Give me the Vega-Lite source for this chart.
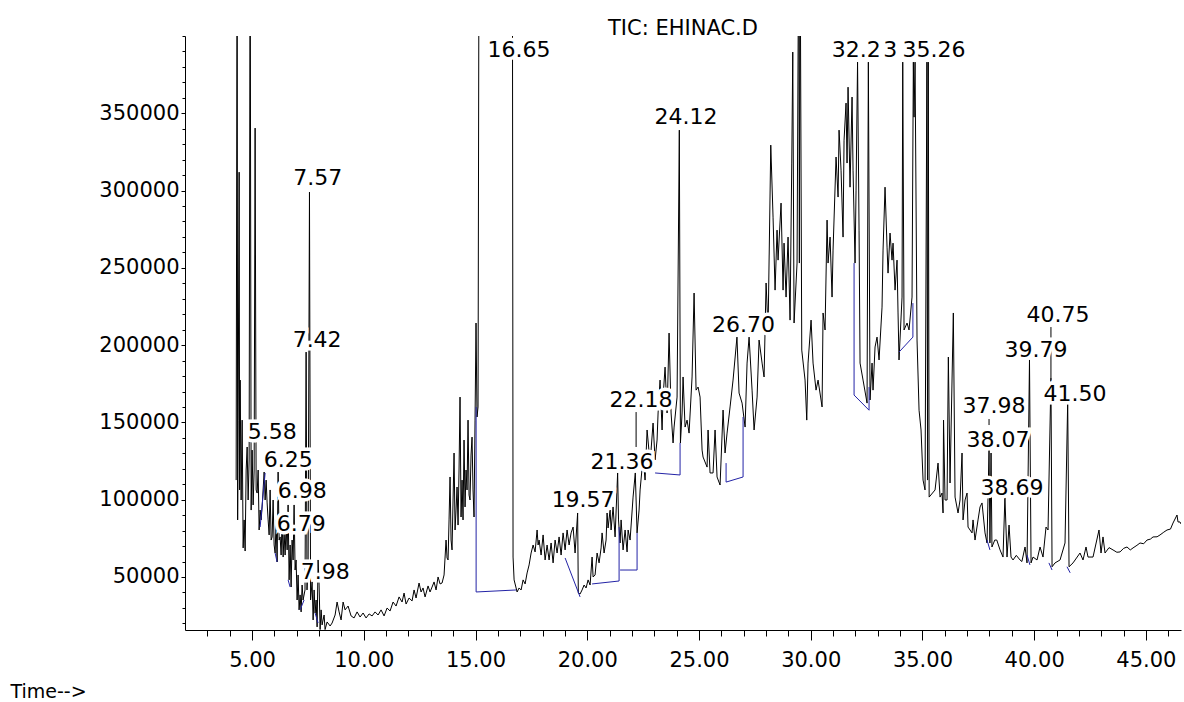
{
"$schema": "https://vega.github.io/schema/vega-lite/v6.json",
"width": 996, "height": 594,
"autosize": "none",
"padding": {"left": 185, "top": 36, "right": 3, "bottom": 72},
"background": "white",
"config": {"view": {"stroke": null}, "font": "DejaVu Sans",
  "axis": {"grid": false, "domainColor": "black", "tickColor": "black", "labelColor": "black", "domainWidth": 1, "tickWidth": 1, "labelFont": "DejaVu Sans"}},
"title": {"text": "TIC: EHINAC.D", "anchor": "middle", "fontSize": 21, "font": "DejaVu Sans", "fontWeight": "normal", "color": "black", "offset": 1, "baseline": "alphabetic", "dy": 21},
"datasets": {
"trace": [
{"time":4.289,"abundance":112700},{"time":4.333,"abundance":480000},{"time":4.356,"abundance":86900},{"time":4.378,"abundance":151500},{"time":4.423,"abundance":311900},{"time":4.445,"abundance":106300},{"time":4.468,"abundance":177400},{"time":4.512,"abundance":99800},{"time":4.557,"abundance":151500},{"time":4.602,"abundance":68800},{"time":4.646,"abundance":86900},{"time":4.691,"abundance":66800},{"time":4.736,"abundance":119200},{"time":4.781,"abundance":134100},{"time":4.825,"abundance":99800},{"time":4.870,"abundance":125700},{"time":4.915,"abundance":480000},{"time":4.960,"abundance":93300},{"time":5.004,"abundance":132100},{"time":5.049,"abundance":96600},{"time":5.094,"abundance":119200},{"time":5.138,"abundance":340400},{"time":5.183,"abundance":106300},{"time":5.228,"abundance":104300},{"time":5.273,"abundance":119200},{"time":5.317,"abundance":80400},{"time":5.362,"abundance":93300},{"time":5.407,"abundance":86900},{"time":5.451,"abundance":95300},{"time":5.541,"abundance":117900},{"time":5.586,"abundance":99800},{"time":5.630,"abundance":112700},{"time":5.675,"abundance":97900},{"time":5.720,"abundance":86900},{"time":5.765,"abundance":77200},{"time":5.809,"abundance":106300},{"time":5.854,"abundance":73900},{"time":5.899,"abundance":75900},{"time":5.943,"abundance":99800},{"time":5.988,"abundance":70700},{"time":6.033,"abundance":65500},{"time":6.078,"abundance":86900},{"time":6.122,"abundance":59700},{"time":6.167,"abundance":117900},{"time":6.212,"abundance":73900},{"time":6.257,"abundance":75900},{"time":6.301,"abundance":64200},{"time":6.346,"abundance":86900},{"time":6.391,"abundance":62900},{"time":6.435,"abundance":78500},{"time":6.480,"abundance":64200},{"time":6.525,"abundance":83600},{"time":6.570,"abundance":67500},{"time":6.614,"abundance":96600},{"time":6.659,"abundance":48100},{"time":6.704,"abundance":70700},{"time":6.748,"abundance":43500},{"time":6.793,"abundance":73900},{"time":6.838,"abundance":61000},{"time":6.882,"abundance":96600},{"time":6.927,"abundance":54500},{"time":6.972,"abundance":61000},{"time":7.017,"abundance":35100},{"time":7.061,"abundance":51300},{"time":7.106,"abundance":28700},{"time":7.151,"abundance":38400},{"time":7.196,"abundance":27400},{"time":7.240,"abundance":44800},{"time":7.285,"abundance":35100},{"time":7.37,"abundance":41600},{"time":7.42,"abundance":195500},{"time":7.46,"abundance":41600},{"time":7.51,"abundance":61000},{"time":7.57,"abundance":299000},{"time":7.62,"abundance":35100},{"time":7.688,"abundance":46800},{"time":7.733,"abundance":22200},{"time":7.778,"abundance":41600},{"time":7.822,"abundance":26700},{"time":7.867,"abundance":35100},{"time":7.912,"abundance":17700},{"time":7.956,"abundance":61000},{"time":8.001,"abundance":44800},{"time":8.046,"abundance":16000},{"time":8.091,"abundance":28700},{"time":8.135,"abundance":19000},{"time":8.225,"abundance":25400},{"time":8.269,"abundance":16000},{"time":8.359,"abundance":20900},{"time":8.493,"abundance":18300},{"time":8.582,"abundance":20200},{"time":8.717,"abundance":25400},{"time":8.806,"abundance":33800},{"time":8.896,"abundance":27400},{"time":8.985,"abundance":22200},{"time":9.075,"abundance":33800},{"time":9.164,"abundance":28700},{"time":9.298,"abundance":31200},{"time":9.432,"abundance":24800},{"time":9.566,"abundance":23500},{"time":9.701,"abundance":27400},{"time":9.835,"abundance":24100},{"time":9.969,"abundance":26700},{"time":10.103,"abundance":23500},{"time":10.238,"abundance":26100},{"time":10.372,"abundance":24800},{"time":10.506,"abundance":27400},{"time":10.640,"abundance":25400},{"time":10.774,"abundance":28700},{"time":10.909,"abundance":24800},{"time":11.043,"abundance":29900},{"time":11.177,"abundance":28000},{"time":11.311,"abundance":33800},{"time":11.445,"abundance":31200},{"time":11.580,"abundance":37100},{"time":11.714,"abundance":33800},{"time":11.803,"abundance":39600},{"time":11.893,"abundance":32500},{"time":12.027,"abundance":36400},{"time":12.161,"abundance":34500},{"time":12.251,"abundance":41600},{"time":12.340,"abundance":36400},{"time":12.474,"abundance":46100},{"time":12.564,"abundance":40300},{"time":12.653,"abundance":42900},{"time":12.743,"abundance":37100},{"time":12.877,"abundance":44200},{"time":12.966,"abundance":40300},{"time":13.056,"abundance":43500},{"time":13.145,"abundance":46800},{"time":13.235,"abundance":41600},{"time":13.324,"abundance":50000},{"time":13.414,"abundance":45500},{"time":13.503,"abundance":46100},{"time":13.593,"abundance":51300},{"time":13.682,"abundance":73900},{"time":13.727,"abundance":62300},{"time":13.772,"abundance":61000},{"time":13.816,"abundance":86900},{"time":13.861,"abundance":114700},{"time":13.906,"abundance":73900},{"time":13.950,"abundance":67500},{"time":13.995,"abundance":99800},{"time":14.040,"abundance":130200},{"time":14.085,"abundance":80400},{"time":14.129,"abundance":93300},{"time":14.174,"abundance":108200},{"time":14.219,"abundance":83600},{"time":14.263,"abundance":119200},{"time":14.308,"abundance":166400},{"time":14.353,"abundance":88800},{"time":14.398,"abundance":112700},{"time":14.442,"abundance":86900},{"time":14.487,"abundance":138600},{"time":14.532,"abundance":95300},{"time":14.576,"abundance":119200},{"time":14.621,"abundance":106300},{"time":14.666,"abundance":151500},{"time":14.711,"abundance":103000},{"time":14.755,"abundance":99800},{"time":14.800,"abundance":128900},{"time":14.845,"abundance":140500},{"time":14.889,"abundance":106300},{"time":14.934,"abundance":88800},{"time":14.979,"abundance":151500},{"time":15.023,"abundance":214300},{"time":15.068,"abundance":153500},{"time":15.113,"abundance":160000},{"time":15.158,"abundance":480000},{"time":15.292,"abundance":480000},{"time":15.739,"abundance":480000},{"time":16.187,"abundance":480000},{"time":16.634,"abundance":480000},{"time":16.65,"abundance":480000},{"time":16.68,"abundance":62900},{"time":16.727,"abundance":48100},{"time":16.861,"abundance":40300},{"time":16.951,"abundance":42900},{"time":17.040,"abundance":41600},{"time":17.130,"abundance":48100},{"time":17.219,"abundance":45500},{"time":17.309,"abundance":52600},{"time":17.398,"abundance":57800},{"time":17.488,"abundance":65500},{"time":17.577,"abundance":70700},{"time":17.667,"abundance":66200},{"time":17.756,"abundance":80400},{"time":17.801,"abundance":70700},{"time":17.846,"abundance":73900},{"time":17.935,"abundance":64200},{"time":18.025,"abundance":77200},{"time":18.114,"abundance":61000},{"time":18.204,"abundance":70700},{"time":18.293,"abundance":61000},{"time":18.383,"abundance":72000},{"time":18.472,"abundance":59100},{"time":18.562,"abundance":73900},{"time":18.651,"abundance":65500},{"time":18.740,"abundance":75900},{"time":18.830,"abundance":64200},{"time":18.919,"abundance":78500},{"time":19.009,"abundance":67500},{"time":19.098,"abundance":80400},{"time":19.188,"abundance":70700},{"time":19.277,"abundance":78500},{"time":19.367,"abundance":82300},{"time":19.456,"abundance":65500},{"time":19.57,"abundance":91400},{"time":19.60,"abundance":39600},{"time":19.680,"abundance":39000},{"time":19.769,"abundance":41600},{"time":19.859,"abundance":44800},{"time":19.948,"abundance":42900},{"time":20.038,"abundance":48100},{"time":20.127,"abundance":44800},{"time":20.217,"abundance":62900},{"time":20.262,"abundance":50000},{"time":20.351,"abundance":51300},{"time":20.441,"abundance":65500},{"time":20.530,"abundance":59100},{"time":20.620,"abundance":68800},{"time":20.664,"abundance":78500},{"time":20.754,"abundance":65500},{"time":20.843,"abundance":73900},{"time":20.888,"abundance":91400},{"time":20.933,"abundance":81700},{"time":21.022,"abundance":93300},{"time":21.067,"abundance":80400},{"time":21.156,"abundance":95300},{"time":21.246,"abundance":75900},{"time":21.36,"abundance":117300},{"time":21.40,"abundance":86900},{"time":21.470,"abundance":72000},{"time":21.515,"abundance":86900},{"time":21.604,"abundance":67500},{"time":21.694,"abundance":80400},{"time":21.783,"abundance":66200},{"time":21.828,"abundance":80400},{"time":21.917,"abundance":73900},{"time":22.051,"abundance":101700},{"time":22.15,"abundance":117300},{"time":22.230,"abundance":78500},{"time":22.320,"abundance":93300},{"time":22.365,"abundance":106300},{"time":22.499,"abundance":127600},{"time":22.588,"abundance":112700},{"time":22.678,"abundance":145100},{"time":22.812,"abundance":123700},{"time":22.946,"abundance":149600},{"time":23.036,"abundance":125700},{"time":23.125,"abundance":138600},{"time":23.170,"abundance":156100},{"time":23.259,"abundance":177400},{"time":23.349,"abundance":145100},{"time":23.394,"abundance":166400},{"time":23.483,"abundance":185800},{"time":23.573,"abundance":156100},{"time":23.662,"abundance":207800},{"time":23.752,"abundance":156100},{"time":23.841,"abundance":136700},{"time":23.886,"abundance":147000},{"time":24.020,"abundance":166400},{"time":24.12,"abundance":339100},{"time":24.17,"abundance":136700},{"time":24.244,"abundance":156100},{"time":24.288,"abundance":179400},{"time":24.378,"abundance":147000},{"time":24.467,"abundance":151500},{"time":24.557,"abundance":143100},{"time":24.691,"abundance":179400},{"time":24.781,"abundance":233700},{"time":24.870,"abundance":170900},{"time":24.960,"abundance":172900},{"time":25.049,"abundance":166400},{"time":25.139,"abundance":132100},{"time":25.183,"abundance":127600},{"time":25.362,"abundance":121100},{"time":25.407,"abundance":145100},{"time":25.496,"abundance":117300},{"time":25.630,"abundance":117300},{"time":25.720,"abundance":145100},{"time":25.809,"abundance":114700},{"time":25.944,"abundance":109500},{"time":26.078,"abundance":158000},{"time":26.167,"abundance":130200},{"time":26.257,"abundance":143100},{"time":26.391,"abundance":160000},{"time":26.525,"abundance":177400},{"time":26.70,"abundance":205200},{"time":26.794,"abundance":169000},{"time":26.929,"abundance":162500},{"time":27.063,"abundance":147000},{"time":27.152,"abundance":188400},{"time":27.242,"abundance":205200},{"time":27.376,"abundance":170900},{"time":27.466,"abundance":145100},{"time":27.600,"abundance":166400},{"time":27.689,"abundance":203300},{"time":27.824,"abundance":188400},{"time":27.913,"abundance":179400},{"time":28.003,"abundance":240200},{"time":28.092,"abundance":209800},{"time":28.213,"abundance":329400},{"time":28.315,"abundance":282800},{"time":28.405,"abundance":235600},{"time":28.494,"abundance":274400},{"time":28.539,"abundance":255000},{"time":28.673,"abundance":291900},{"time":28.763,"abundance":235600},{"time":28.807,"abundance":266000},{"time":28.897,"abundance":231100},{"time":28.986,"abundance":269900},{"time":29.076,"abundance":216200},{"time":29.152,"abundance":317800},{"time":29.197,"abundance":389600},{"time":29.255,"abundance":214300},{"time":29.389,"abundance":253100},{"time":29.465,"abundance":480000},{"time":29.492,"abundance":253100},{"time":29.523,"abundance":480000},{"time":29.599,"abundance":196800},{"time":29.747,"abundance":177400},{"time":29.823,"abundance":151500},{"time":29.881,"abundance":188400},{"time":30.016,"abundance":216200},{"time":30.105,"abundance":188400},{"time":30.239,"abundance":170900},{"time":30.329,"abundance":177400},{"time":30.508,"abundance":160000},{"time":30.553,"abundance":220800},{"time":30.642,"abundance":209800},{"time":30.732,"abundance":280900},{"time":30.776,"abundance":253100},{"time":30.866,"abundance":269900},{"time":30.955,"abundance":231100},{"time":31.000,"abundance":261500},{"time":31.134,"abundance":321700},{"time":31.224,"abundance":295800},{"time":31.268,"abundance":339100},{"time":31.358,"abundance":313200},{"time":31.447,"abundance":269900},{"time":31.492,"abundance":332600},{"time":31.581,"abundance":356600},{"time":31.626,"abundance":317800},{"time":31.671,"abundance":366900},{"time":31.760,"abundance":302200},{"time":31.850,"abundance":360500},{"time":31.895,"abundance":313200},{"time":31.984,"abundance":253100},{"time":32.029,"abundance":300300},{"time":32.096,"abundance":383100},{"time":32.163,"abundance":274400},{"time":32.208,"abundance":188400},{"time":32.342,"abundance":177400},{"time":32.521,"abundance":162500},{"time":32.579,"abundance":383100},{"time":32.655,"abundance":164500},{"time":32.745,"abundance":188400},{"time":32.789,"abundance":170900},{"time":32.879,"abundance":198800},{"time":32.968,"abundance":205200},{"time":33.058,"abundance":190400},{"time":33.192,"abundance":224600},{"time":33.237,"abundance":261500},{"time":33.326,"abundance":302200},{"time":33.416,"abundance":263400},{"time":33.460,"abundance":246600},{"time":33.550,"abundance":272500},{"time":33.639,"abundance":255000},{"time":33.684,"abundance":266000},{"time":33.774,"abundance":235600},{"time":33.863,"abundance":255000},{"time":33.908,"abundance":220800},{"time":33.952,"abundance":190400},{"time":34.087,"abundance":231100},{"time":34.118,"abundance":383100},{"time":34.176,"abundance":209800},{"time":34.311,"abundance":214300},{"time":34.400,"abundance":209800},{"time":34.534,"abundance":231100},{"time":34.593,"abundance":383100},{"time":34.624,"abundance":347500},{"time":34.669,"abundance":383100},{"time":34.758,"abundance":203300},{"time":34.848,"abundance":157900},{"time":34.937,"abundance":145100},{"time":35.027,"abundance":112700},{"time":35.116,"abundance":106300},{"time":35.20,"abundance":383100},{"time":35.23,"abundance":112700},{"time":35.26,"abundance":383100},{"time":35.30,"abundance":101700},{"time":35.564,"abundance":106300},{"time":35.698,"abundance":123700},{"time":35.788,"abundance":101700},{"time":35.877,"abundance":104300},{"time":35.922,"abundance":91400},{"time":35.944,"abundance":151500},{"time":36.011,"abundance":99800},{"time":36.101,"abundance":99800},{"time":36.159,"abundance":192300},{"time":36.235,"abundance":110800},{"time":36.382,"abundance":220800},{"time":36.459,"abundance":101700},{"time":36.593,"abundance":91400},{"time":36.682,"abundance":99800},{"time":36.772,"abundance":130200},{"time":36.817,"abundance":86900},{"time":36.906,"abundance":99800},{"time":36.996,"abundance":104300},{"time":37.040,"abundance":82300},{"time":37.219,"abundance":78500},{"time":37.264,"abundance":86900},{"time":37.353,"abundance":73900},{"time":37.487,"abundance":86900},{"time":37.577,"abundance":95300},{"time":37.666,"abundance":97900},{"time":37.711,"abundance":91400},{"time":37.800,"abundance":78500},{"time":37.890,"abundance":72000},{"time":37.98,"abundance":132100},{"time":38.02,"abundance":72000},{"time":38.07,"abundance":130200},{"time":38.11,"abundance":69400},{"time":38.237,"abundance":73900},{"time":38.327,"abundance":73900},{"time":38.472,"abundance":67500},{"time":38.606,"abundance":62900},{"time":38.69,"abundance":101700},{"time":38.785,"abundance":62900},{"time":38.875,"abundance":83600},{"time":38.964,"abundance":62900},{"time":39.054,"abundance":61000},{"time":39.2,"abundance":64000},{"time":39.367,"abundance":61000},{"time":39.45,"abundance":60000},{"time":39.591,"abundance":69400},{"time":39.680,"abundance":59100},{"time":39.79,"abundance":190400},{"time":39.86,"abundance":59100},{"time":39.949,"abundance":62900},{"time":40.128,"abundance":61000},{"time":40.262,"abundance":69400},{"time":40.396,"abundance":62900},{"time":40.530,"abundance":82300},{"time":40.620,"abundance":80400},{"time":40.75,"abundance":178700},{"time":40.80,"abundance":56600},{"time":40.933,"abundance":59100},{"time":41.157,"abundance":61000},{"time":41.380,"abundance":72000},{"time":41.50,"abundance":163600},{"time":41.56,"abundance":56600},{"time":41.738,"abundance":59100},{"time":42.051,"abundance":65500},{"time":42.186,"abundance":61000},{"time":42.320,"abundance":69400},{"time":42.409,"abundance":62900},{"time":42.633,"abundance":62900},{"time":42.901,"abundance":80400},{"time":42.991,"abundance":65500},{"time":43.080,"abundance":75900},{"time":43.170,"abundance":65500},{"time":43.35,"abundance":69000},{"time":43.528,"abundance":67500},{"time":43.7,"abundance":66000},{"time":43.841,"abundance":66200},{"time":44.0,"abundance":68500},{"time":44.154,"abundance":69400},{"time":44.3,"abundance":67500},{"time":44.423,"abundance":68800},{"time":44.6,"abundance":70500},{"time":44.736,"abundance":72000},{"time":44.9,"abundance":71500},{"time":45.049,"abundance":73900},{"time":45.2,"abundance":74500},{"time":45.318,"abundance":75900},{"time":45.5,"abundance":76000},{"time":45.631,"abundance":77200},{"time":45.8,"abundance":79000},{"time":45.944,"abundance":80400},{"time":46.1,"abundance":81000},{"time":46.212,"abundance":84900},{"time":46.391,"abundance":90100},{"time":46.436,"abundance":85600},{"time":46.525,"abundance":85600},{"time":46.57,"abundance":84300}
],
"base": [
{"t1":15.027,"a1":160000,"t2":15.027,"a2":40300},{"t1":15.027,"a1":40300,"t2":16.817,"a2":41600},{"t1":19.009,"a1":62300,"t2":19.680,"a2":37100},{"t1":20.217,"a1":45500,"t2":21.425,"a2":47400},{"t1":21.425,"a1":47400,"t2":21.425,"a2":82300},{"t1":21.470,"a1":54500,"t2":22.230,"a2":54500},{"t1":22.230,"a1":54500,"t2":22.230,"a2":78500},{"t1":23.036,"a1":117300,"t2":24.154,"a2":116000},{"t1":24.154,"a1":116000,"t2":24.154,"a2":136700},{"t1":26.213,"a1":123700,"t2":26.213,"a2":111400},{"t1":26.213,"a1":111400,"t2":26.973,"a2":114700},{"t1":26.973,"a1":114700,"t2":26.973,"a2":153500},{"t1":31.940,"a1":253100,"t2":31.940,"a2":167700},{"t1":31.940,"a1":167700,"t2":32.611,"a2":157900},{"t1":32.611,"a1":157900,"t2":32.611,"a2":172900},{"t1":33.952,"a1":195500,"t2":34.573,"a2":205200},{"t1":34.573,"a1":205200,"t2":34.573,"a2":227200},{"t1":5.586,"a1":117300,"t2":5.362,"a2":82300},{"t1":6.033,"a1":65500,"t2":6.122,"a2":59700},{"t1":6.614,"a1":48100,"t2":6.704,"a2":43500},{"t1":7.151,"a1":28700,"t2":7.330,"a2":35100},{"t1":7.822,"a1":26700,"t2":7.956,"a2":20200},{"t1":37.89,"a1":73900,"t2":38.02,"a2":67500},{"t1":39.68,"a1":64200,"t2":39.81,"a2":57800},{"t1":40.66,"a1":59100,"t2":40.80,"a2":54500},{"t1":41.47,"a1":56600,"t2":41.61,"a2":52700}
],
"lline": [
{"time":22.186,"a1":156700,"a2":134100},{"time":40.75,"a1":211700,"a2":178700},{"time":37.98,"a1":152200,"a2":148300}
],
"labels": [
{"label":"7.57","time":7.935,"abundance":308100},{"label":"7.42","time":7.912,"abundance":203300},{"label":"5.58","time":5.899,"abundance":143700},{"label":"6.25","time":6.615,"abundance":125700},{"label":"6.98","time":7.242,"abundance":105600},{"label":"6.79","time":7.197,"abundance":84300},{"label":"7.98","time":8.271,"abundance":53200},{"label":"16.65","time":16.951,"abundance":390900},{"label":"19.57","time":19.815,"abundance":99800},{"label":"21.36","time":21.56,"abundance":124400},{"label":"22.18","time":22.41,"abundance":164500},{"label":"24.12","time":24.422,"abundance":347500},{"label":"26.70","time":26.997,"abundance":213000},{"label":"32.2","time":32.04,"abundance":390900},{"label":"3","time":33.56,"abundance":390900},{"label":"35.26","time":35.52,"abundance":390900},{"label":"37.98","time":38.20,"abundance":160600},{"label":"38.07","time":38.38,"abundance":138600},{"label":"38.69","time":39.01,"abundance":107600},{"label":"39.79","time":40.08,"abundance":196800},{"label":"40.75","time":41.07,"abundance":219500},{"label":"41.50","time":41.83,"abundance":168400}
]
},
"layer": [
{"data": {"name": "trace"},
 "mark": {"type": "line", "color": "black", "strokeWidth": 1, "clip": true, "interpolate": "linear"},
 "encoding": {
  "x": {"field": "time", "type": "quantitative", "scale": {"domain": [2.0, 46.57], "nice": false, "zero": false},
        "axis": {"orient": "bottom", "values": [5,10,15,20,25,30,35,40,45], "format": ".2f", "tickSize": 10, "labelPadding": 9, "labelFontSize": 21, "labelFlush": false, "labelOverlap": false,
                 "title": "Time-->", "titleX": -175, "titleY": 67, "titleAlign": "left", "titleBaseline": "alphabetic", "titleFontSize": 19, "titleFontWeight": "normal", "titleColor": "black", "titleFont": "DejaVu Sans"}},
  "y": {"field": "abundance", "type": "quantitative", "scale": {"domain": [15700, 400000], "nice": false, "zero": false},
        "axis": {"orient": "left", "values": [50000,100000,150000,200000,250000,300000,350000], "format": "d", "tickSize": 4, "labelPadding": 2, "labelFontSize": 21, "title": null}}
 }},
{"data": {"name": "base"},
 "mark": {"type": "rule", "color": "#2323a6", "strokeWidth": 1, "clip": true},
 "encoding": {
  "x": {"field": "t1", "type": "quantitative", "axis": {"orient": "bottom", "values": [3,4,6,7,8,9,11,12,13,14,16,17,18,19,21,22,23,24,26,27,28,29,31,32,33,34,36,37,38,39,41,42,43,44,46], "labels": false, "tickSize": 6, "domain": false, "title": null}},
  "x2": {"field": "t2"},
  "y": {"field": "a1", "type": "quantitative", "axis": {"orient": "left", "values": [20000,30000,40000,60000,70000,80000,90000,110000,120000,130000,140000,160000,170000,180000,190000,210000,220000,230000,240000,260000,270000,280000,290000,310000,320000,330000,340000,360000,370000,380000,390000,400000], "labels": false, "tickSize": 3, "domain": false, "title": null}},
  "y2": {"field": "a2"}
 }},
{"data": {"name": "lline"},
 "mark": {"type": "rule", "color": "black", "strokeWidth": 1},
 "encoding": {
  "x": {"field": "time", "type": "quantitative", "axis": null},
  "y": {"field": "a1", "type": "quantitative", "axis": null},
  "y2": {"field": "a2"}
 }},
{"data": {"name": "labels"},
 "mark": {"type": "text", "fill": "white", "stroke": "white", "strokeWidth": 7, "font": "DejaVu Sans", "fontSize": 22, "align": "center", "baseline": "middle"},
 "encoding": {
  "x": {"field": "time", "type": "quantitative", "axis": null},
  "y": {"field": "abundance", "type": "quantitative", "axis": null},
  "text": {"field": "label"}
 }},
{"data": {"name": "labels"},
 "mark": {"type": "text", "fill": "black", "font": "DejaVu Sans", "fontSize": 22, "align": "center", "baseline": "middle"},
 "encoding": {
  "x": {"field": "time", "type": "quantitative", "axis": null},
  "y": {"field": "abundance", "type": "quantitative", "axis": null},
  "text": {"field": "label"}
 }}
],
"resolve": {"axis": {"x": "independent", "y": "independent"}}
}
